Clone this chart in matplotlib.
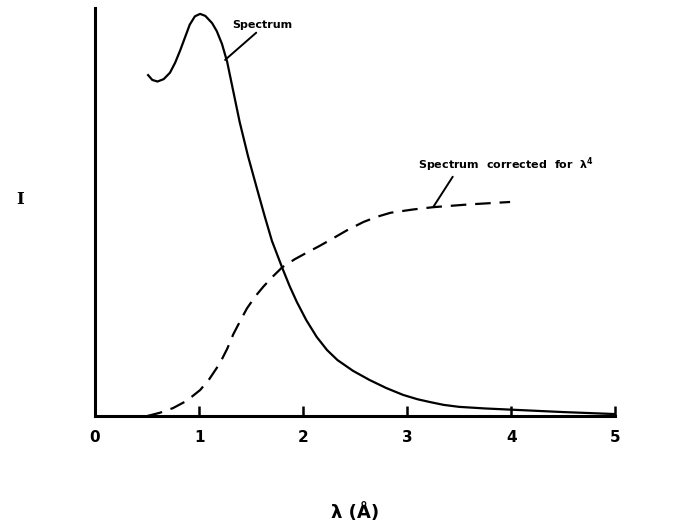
import matplotlib.pyplot as plt

# curves (I in arbitrary units)
lam_spec = [0.51, 0.55, 0.60, 0.66, 0.72, 0.77, 0.82, 0.87, 0.91, 0.96, 1.01,
            1.06, 1.125, 1.17, 1.22, 1.27, 1.33, 1.39, 1.47, 1.56, 1.63, 1.70,
            1.80, 1.87, 1.94, 2.03, 2.13, 2.23, 2.33, 2.48, 2.64, 2.80, 2.96,
            3.10, 3.22, 3.35, 3.50, 3.75, 4.0, 4.5, 5.0]
I_spec = [85.2, 84.0, 83.6, 84.2, 85.8, 88.3, 91.5, 95.0, 97.8, 99.9, 100.5,
          100.0, 98.2, 96.2, 93.0, 88.5, 81.0, 73.5, 65.0, 56.5, 50.0, 43.8,
          37.0, 32.5, 28.5, 24.0, 19.8, 16.5, 14.0, 11.3, 9.0, 7.0, 5.3,
          4.2, 3.5, 2.8, 2.3, 1.9, 1.6, 1.0, 0.5]

lam_corr = [0.5, 0.62, 0.75, 0.88, 1.01, 1.10, 1.20, 1.27, 1.33, 1.40, 1.46,
            1.54, 1.62, 1.71, 1.80, 1.92, 2.04, 2.15, 2.26, 2.42, 2.58, 2.71,
            2.84, 3.05, 3.25, 3.60, 3.99]
I_corr = [0.0, 0.8, 2.0, 3.8, 6.5, 9.3, 13.2, 16.8, 20.5, 24.0, 26.9,
          29.9, 32.4, 34.9, 37.2, 39.2, 40.9, 42.4, 44.0, 46.4, 48.5, 49.8,
          50.8, 51.6, 52.2, 52.9, 53.5]

xticks = [0, 1, 2, 3, 4, 5]

fig = plt.figure(figsize=(6.79, 5.26), dpi=100)
ax = fig.add_axes([0.14, 0.209, 0.766, 0.776])

ax.plot(lam_spec, I_spec, color='black', lw=1.6)
ax.plot(lam_corr, I_corr, color='black', lw=1.6, dashes=(7, 4))

ax.set_xlim(0, 5)
ax.set_ylim(0, 102)
for s in ['top', 'right']:
    ax.spines[s].set_visible(False)
for s in ['left', 'bottom']:
    ax.spines[s].set_linewidth(2.2)

ax.set_xticks(xticks)
ax.set_xticklabels([str(t) for t in xticks], fontsize=11, fontweight='bold')
ax.tick_params(axis='x', direction='in', length=7, width=1.8, pad=10)
ax.set_yticks([])

ax.set_xlabel('λ (Å)', fontsize=13, fontweight='bold', labelpad=42)
ax.set_ylabel('I', fontsize=12, fontweight='bold', family='DejaVu Serif',
              rotation=0, va='center', ha='center')
ax.yaxis.set_label_coords(-0.144, 0.53)

# labels with leader lines
ax.annotate('Spectrum', xy=(1.25, 89), xytext=(1.32, 96.5),
            fontsize=8, fontweight='bold', ha='left', va='bottom',
            arrowprops=dict(arrowstyle='-', color='black', lw=1.4,
                            shrinkA=0, shrinkB=0, relpos=(0.45, 0)))
ax.annotate('Spectrum  corrected  for  $\\mathbf{\\lambda^4}$', xy=(3.25, 52.2),
            xytext=(3.1, 60.5), fontsize=8, fontweight='bold',
            ha='left', va='bottom',
            arrowprops=dict(arrowstyle='-', color='black', lw=1.4,
                            shrinkA=0, shrinkB=0, relpos=(0.21, 0)))

fig.savefig('out.png', dpi=100)
